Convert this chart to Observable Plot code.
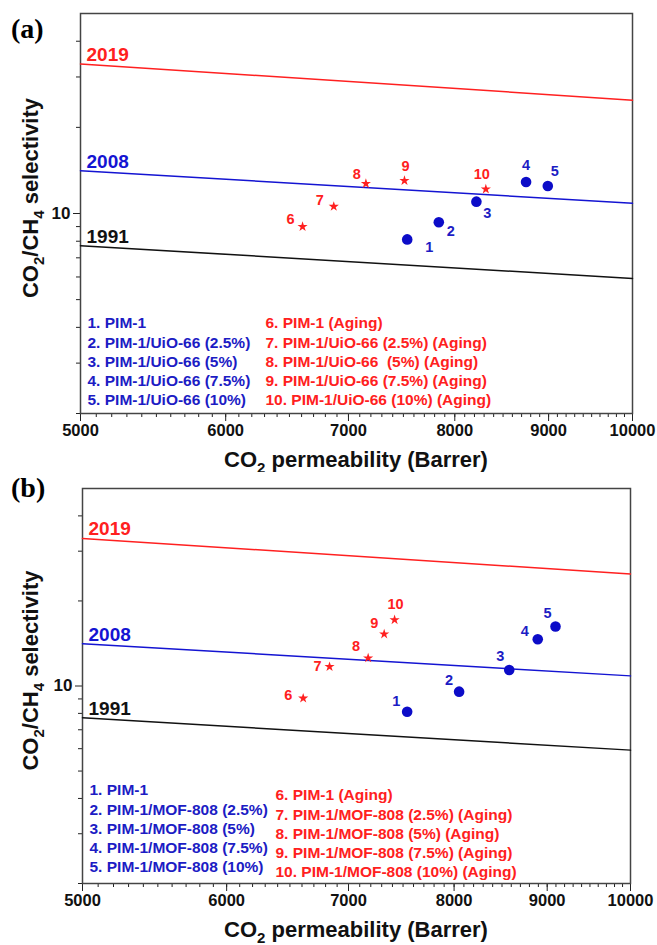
<!DOCTYPE html>
<html><head><meta charset="utf-8">
<script src="https://cdn.jsdelivr.net/npm/d3@7"></script>
<script src="https://cdn.jsdelivr.net/npm/@observablehq/plot@0.6"></script>
<style>
body{margin:0;background:#fff;font-family:"Liberation Sans",Arial,sans-serif;}
#wrap{position:relative;width:657px;height:945px;overflow:hidden;}
.panel{position:absolute;left:0;}
.tag{position:absolute;font-family:"Liberation Serif","Times New Roman",serif;font-weight:bold;font-size:28px;line-height:1;color:#000;z-index:2;}
</style></head><body>
<div id="wrap">
  <div id="pa" class="panel" style="top:0"></div>
  <div id="pb" class="panel" style="top:472px"></div>
  <div class="tag" style="left:11px;top:15px">(a)</div>
  <div class="tag" style="left:11px;top:474px">(b)</div>
</div>
<script>
// ---- shared data ----
const boundYears = ["1991", "2008", "2019"];
const boundX = [5000, 10000];
const bound1991 = [7.72, 5.93];
const bound2008 = [14.12, 10.86];
const bound2019 = [33.3, 24.9];
const xTicks = [5000, 6000, 7000, 8000, 9000, 10000];
const yTicks = [10];
const yMinorTicks = [2, 3, 4, 5, 6, 7, 8, 9, 20, 30, 40];

// ---- panel (a): PIM-1/UiO-66 ----
const aFreshLabels = ["1", "2", "3", "4", "5"];
const aFreshPerm = [7536, 7841, 8220, 8749, 8991];
const aFreshSel = [8.12, 9.32, 11.0, 12.88, 12.47];
const aAgedLabels = ["6", "7", "8", "9", "10"];
const aAgedPerm = [6608, 6872, 7155, 7510, 8318];
const aAgedSel = [9.0, 10.58, 12.71, 13.02, 12.17];
const aFreshLegend = ["1. PIM-1", "2. PIM-1/UiO-66 (2.5%)", "3. PIM-1/UiO-66 (5%)", "4. PIM-1/UiO-66 (7.5%)", "5. PIM-1/UiO-66 (10%)"];
const aAgedLegend = ["6. PIM-1 (Aging)", "7. PIM-1/UiO-66 (2.5%) (Aging)", "8. PIM-1/UiO-66  (5%) (Aging)", "9. PIM-1/UiO-66 (7.5%) (Aging)", "10. PIM-1/UiO-66 (10%) (Aging)"];

// ---- panel (b): PIM-1/MOF-808 ----
const bFreshLabels = ["1", "2", "3", "4", "5"];
const bFreshPerm = [7539, 8051, 8578, 8893, 9095];
const bFreshSel = [8.11, 9.55, 11.39, 14.63, 16.23];
const bAgedLabels = ["6", "7", "8", "9", "10"];
const bAgedPerm = [6610, 6834, 7176, 7323, 7420];
const bAgedSel = [9.05, 11.7, 12.56, 15.27, 17.15];
const bFreshLegend = ["1. PIM-1", "2. PIM-1/MOF-808 (2.5%)", "3. PIM-1/MOF-808 (5%)", "4. PIM-1/MOF-808 (7.5%)", "5. PIM-1/MOF-808 (10%)"];
const bAgedLegend = ["6. PIM-1 (Aging)", "7. PIM-1/MOF-808 (2.5%) (Aging)", "8. PIM-1/MOF-808 (5%) (Aging)", "9. PIM-1/MOF-808 (7.5%) (Aging)", "10. PIM-1/MOF-808 (10%) (Aging)"];

// ---- layout (label nudges in px, not data) ----
const layoutA = {
  height: 472, marginLeft: 80, marginRight: 25, marginTop: 13, marginBottom: 59,
  freshNudge: [[22, 8], [12, 9], [11, 12], [0, -17], [7, -15]],
  agedNudge: [[-12, -7], [-14, -6], [-9, -9], [1, -14], [-4, -15]],
  legendBlue: {dx: 7, bottom: 13, step: 19.25},
  legendRed: {dx: 185, bottom: 13, step: 19.25},
  yLabelShift: -15
};
const layoutB = {
  height: 473, marginLeft: 82, marginRight: 27, marginTop: 16, marginBottom: 62,
  freshNudge: [[-11, -10], [-10, -11], [-9, -14], [-13, -8], [-8, -13]],
  agedNudge: [[-15, -3], [-12, 0], [-12, -12], [-10, -11], [1, -15]],
  legendBlue: {dx: 7, bottom: 16, step: 19.25},
  legendRed: {dx: 193, bottom: 11, step: 19.25},
  yLabelShift: -15
};

const BLUE = "#0c0cc8", BLUE_TXT = "#1c1cc4", RED = "#ff2020", BLACK = "#111";

function rows(labels, xs, ys) { return labels.map((l, i) => ({label: l, x: xs[i], y: ys[i]})); }

function makePanel(L, fresh, aged, freshLegend, agedLegend) {
  const boundRows = (vals) => boundX.map((x, i) => ({x, y: vals[i]}));
  const bounds = [[bound1991, BLACK], [bound2008, "#1414d2"], [bound2019, RED]];
  const marks = [
    Plot.axisX(d3.range(5000, 10001, 100), {tickSize: 4, tickFormat: () => "", label: null, stroke: "#222"}),
    Plot.axisX(xTicks, {tickSize: 8, tickPadding: 3, tickFormat: d => String(d), label: null, fontSize: 16.5, fontWeight: "bold", fill: "#111", stroke: "#222"}),
    Plot.axisY(yMinorTicks, {tickSize: 4, tickFormat: () => "", label: null, stroke: "#222"}),
    Plot.axisY(yTicks, {tickSize: 7, tickPadding: 3, tickFormat: d => String(d), label: null, fontSize: 17, fontWeight: "bold", fill: "#111", stroke: "#222"}),
    Plot.frame({stroke: "#444", strokeWidth: 1.5}),
  ];
  bounds.forEach(([vals, c], i) => {
    marks.push(Plot.line(boundRows(vals), {x: "x", y: "y", stroke: c, strokeWidth: 1.5}));
    marks.push(Plot.text([{x: boundX[0], y: vals[0], t: boundYears[i]}], {
      x: "x", y: "y", text: "t", textAnchor: "start", lineAnchor: "bottom", dx: 6, dy: -3,
      fill: c, fontSize: 19, fontWeight: "bold"
    }));
  });
  marks.push(Plot.dot(fresh, {x: "x", y: "y", r: 5.3, fill: BLUE, stroke: "none"}));
  marks.push(Plot.dot(aged, {x: "x", y: "y", r: 3.2, symbol: "star", fill: RED, stroke: "none"}));
  fresh.forEach((d, i) => marks.push(Plot.text([d], {x: "x", y: "y", text: "label", dx: L.freshNudge[i][0], dy: L.freshNudge[i][1], fill: BLUE_TXT, fontSize: 14.5, fontWeight: "bold"})));
  aged.forEach((d, i) => marks.push(Plot.text([d], {x: "x", y: "y", text: "label", dx: L.agedNudge[i][0], dy: L.agedNudge[i][1], fill: RED, fontSize: 14.5, fontWeight: "bold"})));
  const legendMarks = (items, cfg, color) => items.forEach((t, i) => marks.push(Plot.text([t], {
    text: d => d, frameAnchor: "bottom-left", textAnchor: "start", lineAnchor: "middle",
    dx: cfg.dx, dy: -(cfg.bottom + (items.length - 1 - i) * cfg.step),
    fill: color, fontSize: 15.5, fontWeight: "bold"
  })));
  legendMarks(freshLegend, L.legendBlue, BLUE_TXT);
  legendMarks(agedLegend, L.legendRed, RED);

  const svg = Plot.plot({
    width: 657, height: L.height,
    marginLeft: L.marginLeft, marginRight: L.marginRight, marginTop: L.marginTop, marginBottom: L.marginBottom,
    style: {fontFamily: "'Liberation Sans', Arial, sans-serif", background: "white", overflow: "visible"},
    x: {type: "log", domain: [5000, 10000]},
    y: {type: "log", domain: [2, 50]},
    marks
  });
  const s = d3.select(svg);
  const fx0 = L.marginLeft, fx1 = 657 - L.marginRight, fy0 = L.marginTop, fy1 = L.height - L.marginBottom;
  // x axis title
  const xt = s.append("text").attr("x", (fx0 + fx1) / 2).attr("y", fy1 + 54).attr("text-anchor", "middle")
    .attr("font-size", 22).attr("font-weight", "bold").attr("fill", "#111");
  xt.append("tspan").text("CO");
  xt.append("tspan").attr("font-size", 15).attr("dy", 6).text("2");
  xt.append("tspan").attr("dy", -6).text(" permeability (Barrer)");
  // y axis title
  const cy = (fy0 + fy1) / 2 + L.yLabelShift;
  const yt = s.append("text").attr("transform", `translate(38,${cy}) rotate(-90)`).attr("text-anchor", "middle")
    .attr("font-size", 22).attr("font-weight", "bold").attr("fill", "#111");
  yt.append("tspan").text("CO");
  yt.append("tspan").attr("font-size", 15).attr("dy", 6).text("2");
  yt.append("tspan").attr("dy", -6).text("/CH");
  yt.append("tspan").attr("font-size", 15).attr("dy", 6).text("4");
  yt.append("tspan").attr("dy", -6).text(" selectivity");
  return svg;
}

document.getElementById("pa").appendChild(makePanel(layoutA,
  rows(aFreshLabels, aFreshPerm, aFreshSel), rows(aAgedLabels, aAgedPerm, aAgedSel), aFreshLegend, aAgedLegend));
document.getElementById("pb").appendChild(makePanel(layoutB,
  rows(bFreshLabels, bFreshPerm, bFreshSel), rows(bAgedLabels, bAgedPerm, bAgedSel), bFreshLegend, bAgedLegend));
</script>
</body></html>
